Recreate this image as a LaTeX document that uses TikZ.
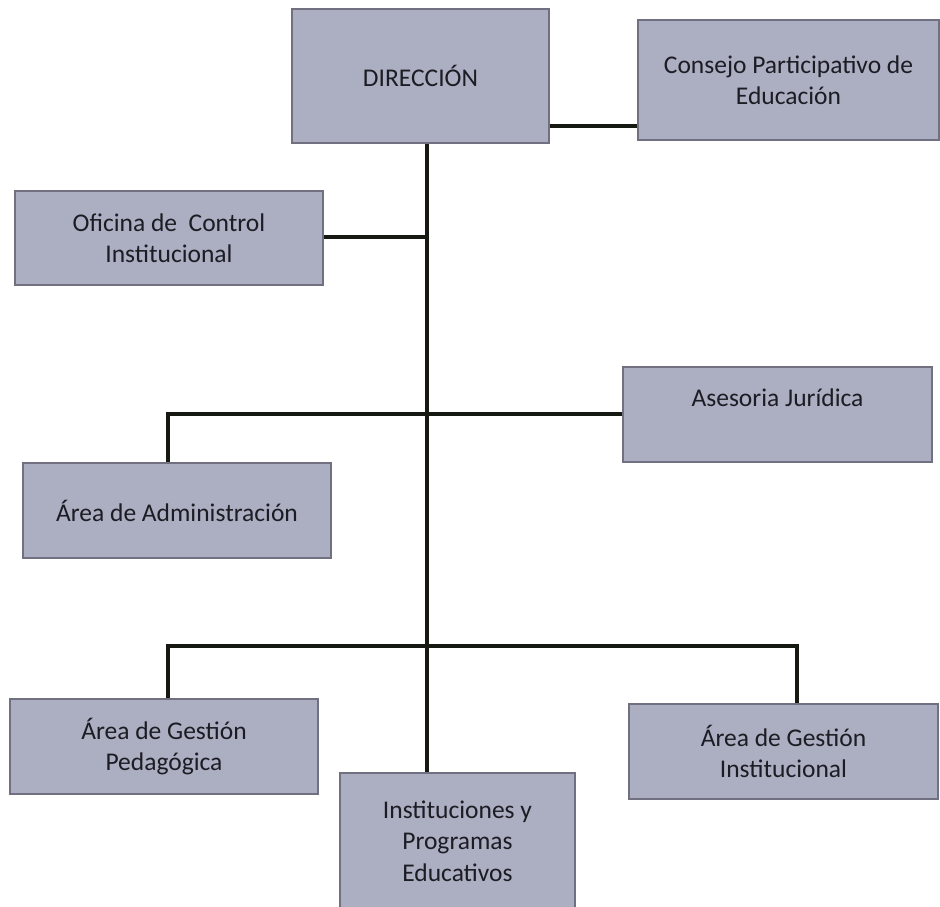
\documentclass[tikz,border=0pt]{standalone}
\usepackage{fontspec}
\setmainfont{Carlito}
\definecolor{boxfill}{RGB}{172,174,193}
\definecolor{boxline}{RGB}{112,112,128}
\definecolor{txt}{RGB}{28,28,36}
\definecolor{conn}{RGB}{22,24,18}
\begin{document}
\begin{tikzpicture}[x=1pt,y=-1pt,
  orgbox/.style={draw=boxline,line width=1.6pt,fill=boxfill,rectangle,inner sep=0pt,
    text=txt,font=\fontsize{25.5}{31.5}\selectfont,align=center},
  link/.style={draw=conn,line width=4.5pt}]
\useasboundingbox (0,0) rectangle (940,906);
\node[orgbox,minimum width=257,minimum height=134] (dir) at (420.5,76) {DIRECCIÓN};
\node[orgbox,minimum width=301,minimum height=120] (cons) at (788.5,80) {Consejo Participativo de\\Educación};
\node[orgbox,minimum width=308,minimum height=94] (ofi) at (169,238) {Oficina de \ Control\\Institucional};
\node[orgbox,minimum width=309,minimum height=95] (ase) at (777.5,414.5) {};
\node[font=\fontsize{25.5}{31.5}\selectfont,text=txt] (asetxt) at (777.5,398) {Asesoria Jurídica};
\node[orgbox,minimum width=308,minimum height=95] (adm) at (177,510.5) {Área de Administración};
\node[orgbox,minimum width=308,minimum height=95] (ped) at (164,746.5) {Área de Gestión\\Pedagógica};
\node[orgbox,minimum width=235,minimum height=136] (ins) at (457.5,841) {Instituciones y\\Programas\\Educativos};
\node[orgbox,minimum width=309,minimum height=95] (inst) at (783.5,751.5) {Área de Gestión\\Institucional};
% junctions
\coordinate (jofi) at (427,237);
\coordinate (jase) at (427,414);
\coordinate (jl) at (168,414);
\coordinate (jbot) at (427,646);
\coordinate (jbl) at (168,646);
\coordinate (jbr) at (797,646);
\coordinate (jcons) at (549,126);
% connectors
\draw[link] (dir.south -| jofi) -- (ins.north -| jofi);
\draw[link] (dir.east |- jcons) -- (cons.west |- jcons);
\draw[link] (ofi.east |- jofi) -- (jofi);
\draw[link] (ase.west |- jase) -- (jl) -- (adm.north -| jl);
\draw[link] (ped.north -| jbl) -- (jbl) -- (jbr) -- (inst.north -| jbr);
\end{tikzpicture}
\end{document}
